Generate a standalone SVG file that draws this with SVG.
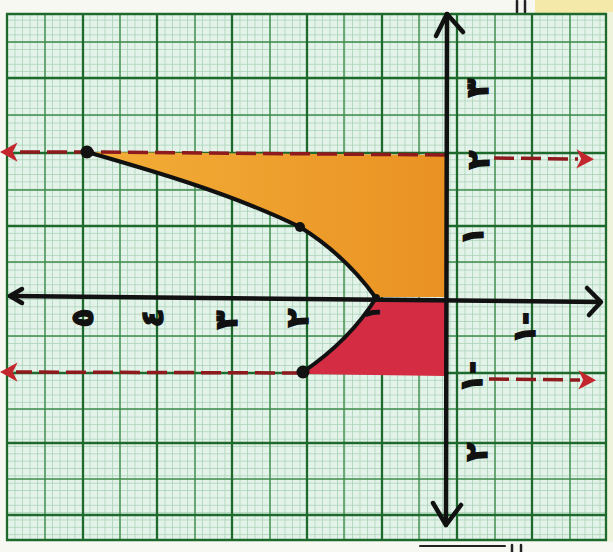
<svg xmlns="http://www.w3.org/2000/svg" width="613" height="552" viewBox="0 0 613 552">
  <style>
    .mid{stroke:#3f8c4c;stroke-width:1.4;fill:none}
    .maj{stroke:#1e6a2d;stroke-width:2.3;fill:none}
    .axis{stroke:#111;stroke-width:4.5;fill:none;stroke-linecap:round;stroke-linejoin:round}
    .red{stroke:#8e1a1e;stroke-width:3.5;fill:none;stroke-dasharray:20 7}
    .curve{stroke:#111;stroke-width:4;fill:none;stroke-linecap:round}
    .lbl{font-family:"DejaVu Sans","Noto Sans",sans-serif;font-size:31px;font-weight:bold;fill:#111;stroke:#111;stroke-width:1.4;text-anchor:middle;dominant-baseline:central;unicode-bidi:bidi-override;direction:ltr}
  </style>
  <defs>
    <pattern id="fine" patternUnits="userSpaceOnUse" x="7" y="5" width="7.5" height="7.35">
      <rect width="7.5" height="7.35" fill="#e3f3ea"/>
      <path d="M0,0.4H7.5M0.4,0V7.35" stroke="#a7cfb2" stroke-width="0.8"/>
    </pattern>
    <linearGradient id="org" x1="0" y1="0" x2="1" y2="0">
      <stop offset="0" stop-color="#f3ae38"/>
      <stop offset="1" stop-color="#e99223"/>
    </linearGradient>
    <marker id="redhead" viewBox="0 0 12 12" refX="2" refY="6" markerWidth="5.5" markerHeight="5.5" orient="auto-start-reverse" markerUnits="strokeWidth">
      <path d="M0,6 L11,0 L8,6 L11,12 Z" fill="#c4262e" transform="rotate(180 6 6)"/>
    </marker>
  </defs>

  <!-- photo frame -->
  <rect x="0" y="0" width="613" height="552" fill="#f8f8f3"/>
  <rect x="535" y="0" width="78" height="16" fill="#f4e9a8"/>
  <rect x="606" y="12" width="7" height="530" fill="#eef3dc"/>
  <g id="paper">
    <rect x="6" y="13" width="601" height="528" fill="url(#fine)"/>
    <g class="mid">
      <path d="M45,13V541M120,13V541M195,13V541M270,13V541M344,13V541M419,13V541M495,13V541M570,13V541"/>
      <path d="M6,42H607M6,115H607M6,190H607M6,262H607M6,336H607M6,409H607M6,479H607"/>
    </g>
    <g class="maj">
      <path d="M7,13V541M83,13V541M157,13V541M232,13V541M307,13V541M382,13V541M457,13V541M532,13V541M606,13V541"/>
      <path d="M6,14H607M6,78H607M6,153H607M6,226H607M6,373H607M6,443H607M6,515H607M6,540H607"/>
    </g>
  </g>

  <!-- photo edge marks -->
  <g id="marks" stroke="#222" stroke-width="2.5" stroke-linecap="round">
    <path d="M517,1V12M525,1V12"/>
    <path d="M512,545V552M521,545V552"/>
    <path d="M420,546H505" stroke-width="2"/>
  </g>

  <g id="regions">
    <path id="orange-region" d="M87,152 L445,155 L445,297 L376,297 Q345,255 300,227 C230,193 150,170 87,152 Z" fill="url(#org)"/>
    <path id="red-region" d="M376,301 L445,301 L445,376 L303,374 Q350,340 376,301 Z" fill="#d42c43"/>
  </g>

  <g id="connectors">
    <path class="red" d="M445,155 L87,152 L16,152" marker-end="url(#redhead)"/>
    <path class="red" d="M494,158 L578,159" marker-end="url(#redhead)"/>
    <path class="red" d="M302,373 L16,372" marker-end="url(#redhead)"/>
    <path class="red" d="M489,379 L580,380" marker-end="url(#redhead)"/>
    <path class="axis" d="M10,296 L600,302"/>
    <path class="axis" d="M22,289 L10,296 L22,303"/>
    <path class="axis" d="M587,288 L601,302 L589,315"/>
    <path class="axis" d="M447,14 L446,525"/>
    <path class="axis" d="M436,36 L447,14 L463,32"/>
    <path class="axis" d="M433,503 L446,525 L461,505"/>
    <path class="curve" d="M87,152 C150,170 230,193 300,227 Q345,255 376,298 Q350,340 303,372"/>
  </g>

  <g id="points" fill="#111">
    <circle cx="87" cy="152" r="6.5"/>
    <circle cx="300" cy="227" r="5"/>
    <circle cx="376" cy="298" r="4"/>
    <circle cx="303" cy="372" r="6.5"/>
  </g>

  <g id="labels">
    <text class="lbl" transform="translate(82,318) rotate(-90)">٥</text>
    <text class="lbl" transform="translate(152,318) rotate(-90)">٤</text>
    <text class="lbl" transform="translate(226,320) rotate(-90)">٣</text>
    <text class="lbl" transform="translate(297,318) rotate(-90)">٢</text>
    <text class="lbl" transform="translate(372,313) rotate(-90)" style="font-size:20px">١</text>
    <text class="lbl" transform="translate(477,88) rotate(-90)">٣</text>
    <text class="lbl" transform="translate(478,160) rotate(-90)">٢</text>
    <text class="lbl" transform="translate(472,236) rotate(-90)">١</text>
    <text class="lbl" transform="translate(524,328) rotate(-90)">١-</text>
    <text class="lbl" transform="translate(471,377) rotate(-90)">١-</text>
    <text class="lbl" transform="translate(476,452) rotate(-90)">٢</text>
  </g>
</svg>
